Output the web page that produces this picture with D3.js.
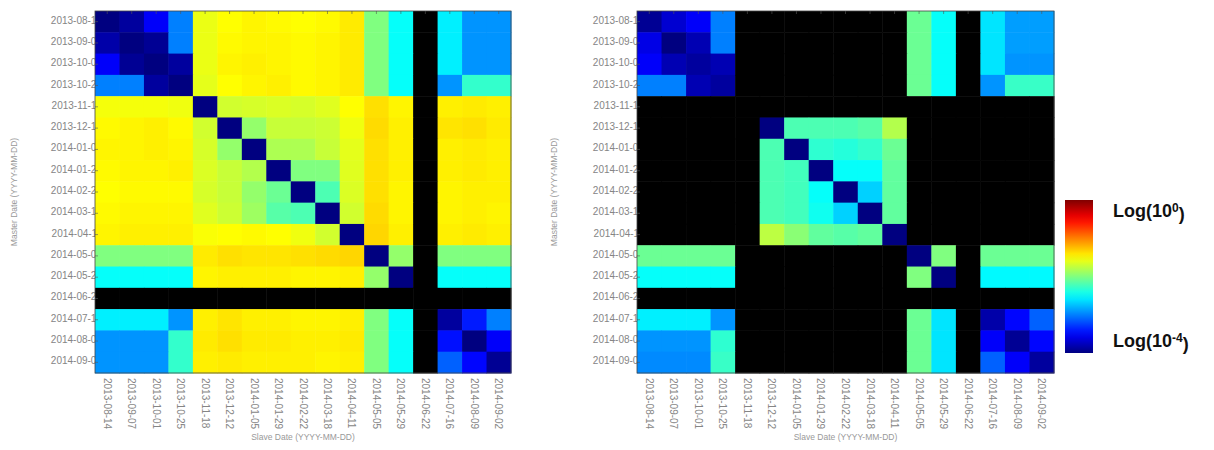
<!DOCTYPE html>
<html>
<head>
<meta charset="utf-8">
<script src="https://cdn.jsdelivr.net/npm/d3@7"></script>
<style>
  html, body { margin: 0; padding: 0; background: #fff; }
  svg { display: block; font-family: "Liberation Sans", Arial, sans-serif; }
</style>
</head>
<body>
<svg id="chart" width="1214" height="450"></svg>
<script>
// ---- data ----
const dates = ["2013-08-14","2013-09-07","2013-10-01","2013-10-25","2013-11-18","2013-12-12",
  "2014-01-05","2014-01-29","2014-02-22","2014-03-18","2014-04-11","2014-05-05","2014-05-29",
  "2014-06-22","2014-07-16","2014-08-09","2014-09-02"];

const N = null;
// log10 values (exponent, -4 .. 0); null = no data (black)
const leftMatrix = [
  [-4.0,-3.88,-3.52,-3.0,-1.58,-1.5,-1.46,-1.48,-1.5,-1.48,-1.42,-2.0,-2.48,N,-2.56,-2.92,-2.92],
  [-3.84,-4.0,-3.92,-3.0,-1.58,-1.48,-1.46,-1.46,-1.48,-1.46,-1.42,-2.0,-2.48,N,-2.56,-2.92,-2.92],
  [-3.52,-3.92,-4.0,-3.88,-1.58,-1.46,-1.44,-1.46,-1.48,-1.46,-1.42,-2.0,-2.48,N,-2.56,-2.92,-2.92],
  [-3.0,-3.0,-3.88,-4.0,-1.6,-1.5,-1.46,-1.44,-1.48,-1.46,-1.42,-2.0,-2.48,N,-2.92,-2.3,-2.3],
  [-1.54,-1.54,-1.54,-1.56,-4.0,-1.68,-1.66,-1.64,-1.66,-1.62,-1.5,-1.38,-1.46,N,-1.44,-1.42,-1.44],
  [-1.48,-1.46,-1.44,-1.48,-1.68,-4.0,-1.92,-1.72,-1.72,-1.7,-1.56,-1.36,-1.44,N,-1.4,-1.38,-1.42],
  [-1.46,-1.46,-1.44,-1.46,-1.66,-1.92,-4.0,-1.82,-1.82,-1.72,-1.6,-1.38,-1.44,N,-1.44,-1.42,-1.44],
  [-1.48,-1.46,-1.46,-1.44,-1.64,-1.72,-1.8,-4.0,-2.0,-2.0,-1.62,-1.38,-1.44,N,-1.44,-1.42,-1.44],
  [-1.5,-1.48,-1.48,-1.48,-1.66,-1.72,-1.92,-2.08,-4.0,-2.2,-1.64,-1.38,-1.46,N,-1.46,-1.44,-1.44],
  [-1.48,-1.46,-1.46,-1.46,-1.62,-1.7,-1.88,-2.16,-2.2,-4.0,-1.68,-1.36,-1.46,N,-1.46,-1.44,-1.46],
  [-1.46,-1.44,-1.44,-1.44,-1.52,-1.5,-1.48,-1.5,-1.56,-1.68,-4.0,-1.34,-1.44,N,-1.44,-1.42,-1.44],
  [-2.0,-2.0,-2.0,-2.0,-1.42,-1.38,-1.4,-1.4,-1.38,-1.36,-1.34,-4.0,-1.92,N,-2.0,-2.0,-2.0],
  [-2.48,-2.48,-2.48,-2.48,-1.46,-1.44,-1.44,-1.44,-1.46,-1.46,-1.44,-1.92,-4.0,N,-2.48,-2.48,-2.48],
  [N,N,N,N,N,N,N,N,N,N,N,N,N,N,N,N,N],
  [-2.56,-2.56,-2.56,-2.92,-1.44,-1.4,-1.44,-1.44,-1.46,-1.46,-1.44,-2.0,-2.48,N,-3.88,-3.4,-3.0],
  [-2.92,-2.92,-2.92,-2.3,-1.42,-1.38,-1.42,-1.42,-1.44,-1.44,-1.42,-2.0,-2.48,N,-3.44,-4.0,-3.52],
  [-2.92,-2.92,-2.92,-2.3,-1.44,-1.42,-1.44,-1.44,-1.44,-1.46,-1.44,-2.0,-2.48,N,-3.12,-3.48,-3.92]
];

const rightMatrix = [
  [-3.92,-3.68,-3.52,-3.0,N,N,N,N,N,N,N,-2.08,-2.48,N,-2.6,-2.88,-2.88],
  [-3.6,-4.0,-3.8,-3.0,N,N,N,N,N,N,N,-2.08,-2.48,N,-2.6,-2.88,-2.88],
  [-3.52,-3.8,-3.88,-3.8,N,N,N,N,N,N,N,-2.08,-2.48,N,-2.6,-2.92,-2.92],
  [-3.0,-3.0,-3.8,-3.88,N,N,N,N,N,N,N,-2.08,-2.48,N,-2.92,-2.28,-2.28],
  [N,N,N,N,N,N,N,N,N,N,N,N,N,N,N,N,N],
  [N,N,N,N,N,-4.0,-2.2,-2.2,-2.2,-2.16,-1.8,N,N,N,N,N,N],
  [N,N,N,N,N,-2.2,-4.0,-2.32,-2.36,-2.3,-2.08,N,N,N,N,N,N],
  [N,N,N,N,N,-2.2,-2.24,-4.0,-2.48,-2.48,-2.12,N,N,N,N,N,N],
  [N,N,N,N,N,-2.2,-2.24,-2.48,-4.0,-2.68,-2.12,N,N,N,N,N,N],
  [N,N,N,N,N,-2.2,-2.24,-2.44,-2.68,-4.0,-2.12,N,N,N,N,N,N],
  [N,N,N,N,N,-1.76,-1.96,-2.12,-2.16,-2.12,-4.0,N,N,N,N,N,N],
  [-2.08,-2.08,-2.08,-2.08,N,N,N,N,N,N,N,-4.0,-2.0,N,-2.08,-2.08,-2.08],
  [-2.48,-2.48,-2.48,-2.48,N,N,N,N,N,N,N,-2.0,-4.0,N,-2.52,-2.52,-2.52],
  [N,N,N,N,N,N,N,N,N,N,N,N,N,N,N,N,N],
  [-2.56,-2.56,-2.56,-2.92,N,N,N,N,N,N,N,-2.08,-2.6,N,-3.84,-3.48,-3.12],
  [-2.92,-2.92,-2.92,-2.32,N,N,N,N,N,N,N,-2.08,-2.6,N,-3.52,-3.92,-3.48],
  [-2.96,-2.96,-2.96,-2.28,N,N,N,N,N,N,N,-2.08,-2.6,N,-3.12,-3.52,-3.88]
];

const colorDomain = [-4, 0];
const colorbarLabels = [{base: "Log(10", exp: "0"}, {base: "Log(10", exp: "-4"}];
const xTitle = "Slave Date (YYYY-MM-DD)";
const yTitle = "Master Date (YYYY-MM-DD)";

// ---- jet colormap ----
const jetStops = [[0,"#000080"],[0.125,"#0000ff"],[0.375,"#00ffff"],[0.625,"#ffff00"],[0.875,"#ff0000"],[1,"#800000"]];
const jetT = d3.scaleLinear().domain(jetStops.map(s => s[0])).range(jetStops.map(s => s[1]))
  .interpolate(d3.interpolateRgb).clamp(true);
const toT = d3.scaleLinear().domain(colorDomain).range([0, 1]).clamp(true);
const color = v => v === null ? "#000000" : jetT(toT(v));

const svg = d3.select("#chart");

function drawHeatmap(matrix, x0, x1, y0, y1, titleX) {
  const g = svg.append("g");
  const x = d3.scaleBand().domain(dates).range([x0, x1]);
  const y = d3.scaleBand().domain(dates).range([y0, y1]);

  // y tick labels (partly hidden under the map like the original)
  const ya = g.append("g").attr("transform", `translate(${x0},0)`)
    .call(d3.axisLeft(y).tickSize(0).tickPadding(-7));
  ya.select(".domain").remove();
  ya.selectAll("text").attr("fill", "#858585").style("font-size", "10px").attr("dy", "0.2em");

  // x tick labels rotated
  const xa = g.append("g").attr("transform", `translate(0,${y1})`)
    .call(d3.axisBottom(x).tickSize(0).tickPadding(0));
  xa.select(".domain").remove();
  xa.selectAll("text")
    .attr("fill", "#858585").style("font-size", "10px")
    .attr("text-anchor", "start")
    .attr("transform", "translate(0,5) rotate(90)")
    .attr("x", 0).attr("y", 0).attr("dy", "0.35em");

  // cells
  const cells = [];
  matrix.forEach((row, i) => row.forEach((v, j) => cells.push({r: dates[i], c: dates[j], v})));
  g.append("g").selectAll("rect").data(cells).join("rect")
    .attr("x", d => x(d.c)).attr("y", d => y(d.r))
    .attr("width", x.bandwidth() + 0.5).attr("height", y.bandwidth() + 0.5)
    .attr("fill", d => color(d.v));

  // inner tick marks
  const tk = g.append("g").attr("stroke", "#555").attr("stroke-width", 0.6);
  dates.forEach(d => {
    const cx = x(d) + x.bandwidth() / 2, cy = y(d) + y.bandwidth() / 2;
    tk.append("line").attr("x1", cx).attr("x2", cx).attr("y1", y0).attr("y2", y0 + 3);
    tk.append("line").attr("x1", x0).attr("x2", x0 + 3).attr("y1", cy).attr("y2", cy);
  });

  // frame
  g.append("rect").attr("x", x0).attr("y", y0).attr("width", x1 - x0).attr("height", y1 - y0)
    .attr("fill", "none").attr("stroke", "#444").attr("stroke-width", 0.8);

  // axis titles
  g.append("text").attr("x", (x0 + x1) / 2).attr("y", 440).attr("text-anchor", "middle")
    .attr("fill", "#999").style("font-size", "8.5px").text(xTitle);
  g.append("text").attr("transform", `translate(${titleX},${(y0 + y1) / 2}) rotate(-90)`)
    .attr("text-anchor", "middle").attr("fill", "#999").style("font-size", "8.5px").text(yTitle);
}

drawHeatmap(leftMatrix, 95, 511, 11, 373, 17);
drawHeatmap(rightMatrix, 637, 1054, 11, 373, 557);

// ---- colorbar ----
const cb = {x: 1065, y: 200, w: 28, h: 153};
const defs = svg.append("defs");
const grad = defs.append("linearGradient").attr("id", "jet").attr("x1", 0).attr("y1", 1).attr("x2", 0).attr("y2", 0);
grad.selectAll("stop").data(d3.range(0, 1.0001, 0.05)).join("stop")
  .attr("offset", d => d).attr("stop-color", d => jetT(d));
svg.append("rect").attr("x", cb.x).attr("y", cb.y).attr("width", cb.w).attr("height", cb.h)
  .attr("fill", "url(#jet)");

const cbScale = d3.scaleLinear().domain(colorDomain).range([cb.y + cb.h - 6, cb.y + 17]);
colorbarLabels.forEach(l => {
  const v = +l.exp;
  const t = svg.append("text").attr("x", 1113).attr("y", cbScale(v))
    .attr("fill", "#111").style("font-size", "18px").style("font-weight", "bold");
  t.append("tspan").text(l.base);
  t.append("tspan").attr("dy", "-0.45em").style("font-size", "12px").text(l.exp);
  t.append("tspan").attr("dy", "0.45em").text(")");
});
</script>
</body>
</html>
